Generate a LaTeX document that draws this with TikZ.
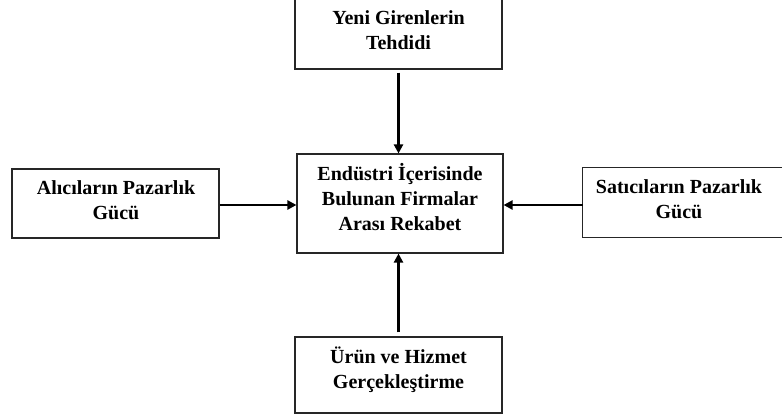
\documentclass[tikz,border=0pt]{standalone}
\usepackage{fontspec}
\setmainfont{Liberation Serif}
\usetikzlibrary{arrows.meta}
\begin{document}
\begin{tikzpicture}[x=1pt,y=-1pt,
  box/.style={draw=black!85, line width=1.1pt, inner sep=0pt},
  lbl/.style={align=center, inner sep=0pt, font=\fontsize{20}{25}\selectfont\bfseries},
  flow/.style={line width=2.2pt, -{Triangle[length=9pt,width=9pt]}}]
\useasboundingbox (0,0) rectangle (782,419);
% frames
\node[box, minimum width=207pt, minimum height=80pt] (top) at (398.5,29) {};
\node[box, minimum width=206pt, minimum height=99pt] (mid) at (400,203.5) {};
\node[box, minimum width=207pt, minimum height=69pt] (left) at (115.5,203.5) {};
% the seller frame runs off the right edge of the page
\node[inner sep=0pt, minimum width=200pt, minimum height=70pt] (right) at (683,202.5) {};
\draw[draw=black!85, line width=1.1pt] (right.north east) -- (right.north west) -- (right.south west) -- (right.south east);
\node[box, minimum width=207pt, minimum height=76pt] (bottom) at (398.5,375) {};
% captions
\node[lbl] (toptext) at (398.5,30) {Yeni Girenlerin\\Tehdidi};
\node[lbl] (midtext) at (400,197.5) {Endüstri İçerisinde\\Bulunan Firmalar\\Arası Rekabet};
\node[lbl] (lefttext) at (116,200.5) {Alıcıların Pazarlık\\Gücü};
\node[lbl] (righttext) at (679,199.5) {Satıcıların Pazarlık\\Gücü};
\node[lbl] (bottomtext) at (398.5,370) {Ürün ve Hizmet\\Gerçekleştirme};
% forces acting on the rivalry
\draw[flow, shorten <=3pt] (top.south) -- (top.south |- mid.north);
\draw[flow, shorten <=4pt] (bottom.north) -- (bottom.north |- mid.south);
\draw[flow] ([yshift=-1.5pt]left.east) -- ([yshift=-1.5pt]left.east -| mid.west);
\draw[flow] ([yshift=-2.5pt]right.west) -- ([yshift=-2.5pt]right.west -| mid.east);
\end{tikzpicture}
\end{document}
